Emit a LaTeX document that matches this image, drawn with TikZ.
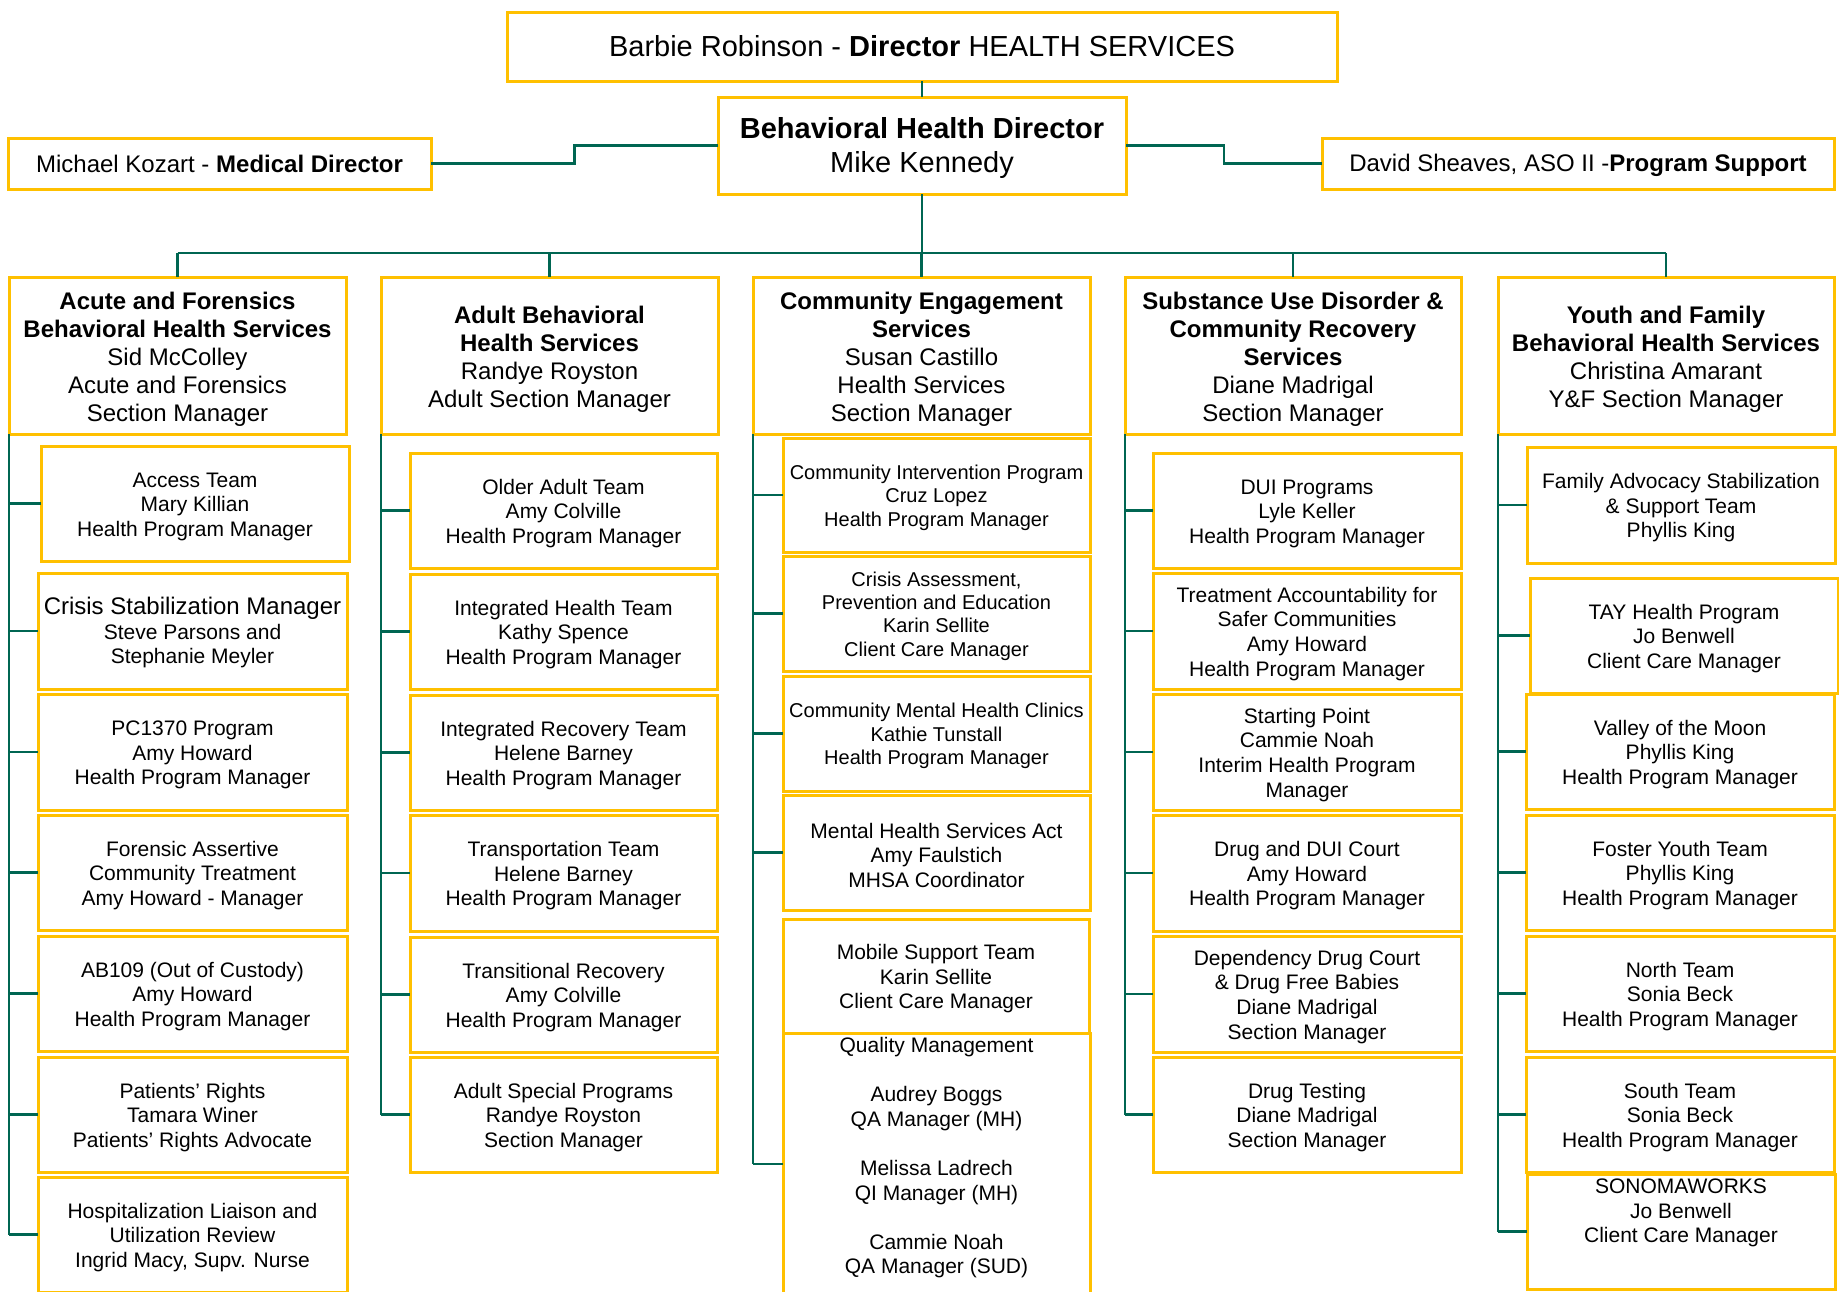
\documentclass[tikz,border=0pt]{standalone}
\usepackage{fontspec}
\setmainfont{Liberation Sans}
\usetikzlibrary{calc}
\definecolor{gold}{RGB}{255,192,0}
\definecolor{tealgreen}{RGB}{0,102,82}
% box given by its corners
\newcommand\orgboxraw[7]{\node[#2, anchor=north west, minimum width={#5-#3}, minimum height={#6-#4}] (#1) at (#3,#4) {#7};}
% same, with a little extra space above the text (pushes it down)
\newcommand\orgbox[7]{\orgboxraw{#1}{#2}{#3}{#4}{#5}{#6}{\mbox{}\\[-4pt]#7}}
\tikzset{
  ybox/.style={draw=gold, line width=3pt, inner sep=0pt, outer sep=0pt, align=center, fill=white, text=black},
  topbox/.style={ybox, font=\fontsize{29}{34}\selectfont},
  head/.style={ybox, font=\fontsize{24}{28}\selectfont},
  sub/.style={ybox, font=\fontsize{21}{24.6}\selectfont},
  subs/.style={ybox, font=\fontsize{20}{23.4}\selectfont},
  conn/.style={draw=tealgreen, line width=2.8pt},
}
\begin{document}
\begin{tikzpicture}[x=1pt,y=-1pt]
\useasboundingbox (0,0) rectangle (1839,1291);
\fill[white] (0,0) rectangle (1839,1291);
\clip (0,0) rectangle (1839,1291);

% top level
\orgboxraw{top}{topbox}{507}{12}{1337}{81}{Barbie Robinson - \textbf{Director} HEALTH SERVICES}
\orgboxraw{bh}{topbox}{718}{97}{1126}{194}{\mbox{}\\[-8pt]\textbf{Behavioral Health Director}\\Mike Kennedy}
\orgboxraw{med}{head}{8}{138}{431}{189}{Michael Kozart - \textbf{Medical Director}}
\orgboxraw{ps}{head}{1322}{138}{1834}{189}{\mbox{}\\[-6pt]David Sheaves, ASO II -\textbf{Program Support}}

% column headers
\orgbox{h1}{head}{9}{277}{346}{434}{\textbf{Acute and Forensics}\\\textbf{Behavioral Health Services}\\Sid McColley\\Acute and Forensics\\Section Manager}
\orgbox{h2}{head}{381}{277}{718}{434}{\textbf{Adult Behavioral}\\\textbf{Health Services}\\Randye Royston\\Adult Section Manager}
\orgbox{h3}{head}{753}{277}{1090}{434}{\textbf{Community Engagement}\\\textbf{Services}\\Susan Castillo\\Health Services\\Section Manager}
\orgbox{h4}{head}{1125}{277}{1461}{434}{\textbf{Substance Use Disorder \&}\\\textbf{Community Recovery}\\\textbf{Services}\\Diane Madrigal\\Section Manager}
\orgbox{h5}{head}{1498}{277}{1834}{434}{\textbf{Youth and Family}\\\textbf{Behavioral Health Services}\\Christina Amarant\\Y\&F Section Manager}

% column 1
\orgbox{a1}{sub}{41}{446}{349}{561}{Access Team\\Mary Killian\\Health Program Manager}
\orgbox{a2}{sub}{38}{573}{347}{689}{{\fontsize{24}{28}\selectfont Crisis Stabilization Manager}\\Steve Parsons and\\Stephanie Meyler}
\orgbox{a3}{sub}{38}{694}{347}{810}{PC1370 Program\\Amy Howard\\Health Program Manager}
\orgbox{a4}{sub}{38}{815}{347}{930}{Forensic Assertive\\Community Treatment\\Amy Howard - Manager}
\orgbox{a5}{sub}{38}{936}{347}{1051}{AB109 (Out of Custody)\\Amy Howard\\Health Program Manager}
\orgbox{a6}{sub}{38}{1057}{347}{1172}{Patients’ Rights\\Tamara Winer\\Patients’ Rights Advocate}
\orgbox{a7}{sub}{38}{1177}{347}{1292}{Hospitalization Liaison and\\Utilization Review\\Ingrid Macy, Supv. Nurse}

% column 2
\orgbox{b1}{sub}{410}{453}{717}{568}{Older Adult Team\\Amy Colville\\Health Program Manager}
\orgbox{b2}{sub}{410}{574}{717}{689}{Integrated Health Team\\Kathy Spence\\Health Program Manager}
\orgbox{b3}{sub}{410}{695}{717}{810}{Integrated Recovery Team\\Helene Barney\\Health Program Manager}
\orgbox{b4}{sub}{410}{815}{717}{931}{Transportation Team\\Helene Barney\\Health Program Manager}
\orgbox{b5}{sub}{410}{937}{717}{1052}{Transitional Recovery\\Amy Colville\\Health Program Manager}
\orgbox{b6}{sub}{410}{1057}{717}{1172}{Adult Special Programs\\Randye Royston\\Section Manager}

% column 3
\orgbox{c1}{subs}{783}{438}{1090}{552}{Community Intervention Program\\Cruz Lopez\\Health Program Manager}
\orgbox{c2}{subs}{783}{556}{1090}{671}{Crisis Assessment,\\Prevention and Education\\Karin Sellite\\Client Care Manager}
\orgbox{c3}{subs}{783}{676}{1090}{791}{Community Mental Health Clinics\\Kathie Tunstall\\Health Program Manager}
\orgbox{c4}{sub}{783}{795}{1090}{910}{Mental Health Services Act\\Amy Faulstich\\MHSA Coordinator}
\orgbox{c5}{sub}{783}{919}{1089}{1033}{Mobile Support Team\\Karin Sellite\\Client Care Manager}
\orgboxraw{c6}{sub}{783}{1033}{1090}{1295}{}
\node[anchor=north, inner sep=0pt, align=center, font=\fontsize{21}{24.6}\selectfont] (qmtext) at ([yshift=-4pt]c6.north) {Quality Management\\[24.6pt]Audrey Boggs\\QA Manager (MH)\\[24.6pt]Melissa Ladrech\\QI Manager (MH)\\[24.6pt]Cammie Noah\\QA Manager (SUD)};

% column 4
\orgbox{d1}{sub}{1153}{453}{1461}{568}{DUI Programs\\Lyle Keller\\Health Program Manager}
\orgbox{d2}{sub}{1153}{573}{1461}{689}{Treatment Accountability for\\Safer Communities\\Amy Howard\\Health Program Manager}
\orgbox{d3}{sub}{1153}{694}{1461}{810}{Starting Point\\Cammie Noah\\Interim Health Program\\Manager}
\orgbox{d4}{sub}{1153}{815}{1461}{931}{Drug and DUI Court\\Amy Howard\\Health Program Manager}
\orgbox{d5}{sub}{1153}{936}{1461}{1052}{Dependency Drug Court\\\& Drug Free Babies\\Diane Madrigal\\Section Manager}
\orgbox{d6}{sub}{1153}{1057}{1461}{1172}{Drug Testing\\Diane Madrigal\\Section Manager}

% column 5
\orgbox{e1}{sub}{1527}{447}{1835}{563}{Family Advocacy Stabilization\\\& Support Team\\Phyllis King}
\orgbox{e2}{sub}{1530}{578}{1838}{693}{TAY Health Program\\Jo Benwell\\Client Care Manager}
\orgbox{e3}{sub}{1526}{694}{1834}{809}{Valley of the Moon\\Phyllis King\\Health Program Manager}
\orgbox{e4}{sub}{1526}{815}{1834}{930}{Foster Youth Team\\Phyllis King\\Health Program Manager}
\orgbox{e5}{sub}{1526}{936}{1834}{1051}{North Team\\Sonia Beck\\Health Program Manager}
\orgbox{e6}{sub}{1526}{1057}{1834}{1172}{South Team\\Sonia Beck\\Health Program Manager}
\orgboxraw{e7}{sub}{1527}{1174}{1835}{1289}{SONOMAWORKS\\Jo Benwell\\Client Care Manager\\[17pt]\mbox{}}

% connectors: top level
\draw[conn] (top.south) -- (bh.north);
\draw[conn] (bh.west) -| ($(bh.west)!.5!(med.east)$) |- (med.east);
\draw[conn] (bh.east) -| ($(bh.east)!.5!(ps.west)$) |- (ps.west);
\coordinate (bus) at (922,253);
\draw[conn] (bh.south) -- (bh.south |- bus);
\draw[conn] (h1.north |- bus) -- (h5.north |- bus);
\foreach \h in {h1,h2,h3,h4,h5} \draw[conn] (\h.north |- bus) -- (\h.north);

% column trunks and branches
\draw[conn] (h1.south west) -- (h1.south west |- a7.west);
\foreach \b in {a1,a2,a3,a4,a5,a6,a7} \draw[conn] (h1.south west |- \b.west) -- (\b.west);
\draw[conn] (h2.south west) -- (h2.south west |- b6.west);
\foreach \b in {b1,b2,b3,b4,b5,b6} \draw[conn] (h2.south west |- \b.west) -- (\b.west);
\draw[conn] (h3.south west) -- (h3.south west |- c6.west);
\foreach \b in {c1,c2,c3,c4,c6} \draw[conn] (h3.south west |- \b.west) -- (\b.west);
\draw[conn] (h4.south west) -- (h4.south west |- d6.west);
\foreach \b in {d1,d2,d3,d4,d5,d6} \draw[conn] (h4.south west |- \b.west) -- (\b.west);
\draw[conn] (h5.south west) -- (h5.south west |- e7.west);
\foreach \b in {e1,e2,e3,e4,e5,e6,e7} \draw[conn] (h5.south west |- \b.west) -- (\b.west);
\end{tikzpicture}
\end{document}
